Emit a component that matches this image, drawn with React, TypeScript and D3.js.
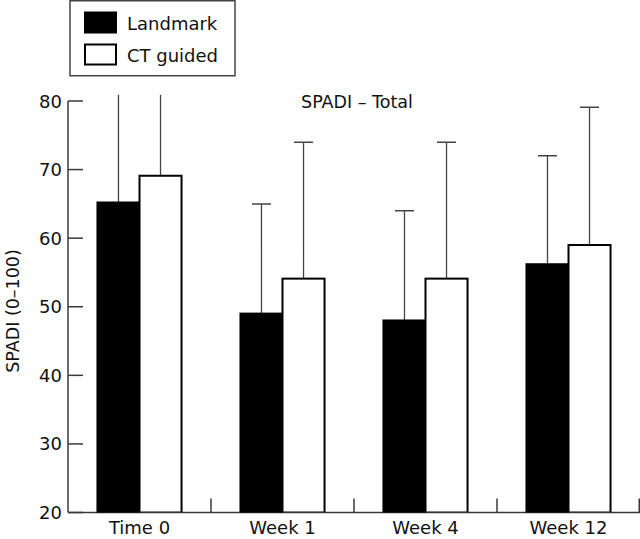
import { useEffect, useRef } from "react";
import * as d3 from "d3";

const categories = ["Time 0", "Week 1", "Week 4", "Week 12"];
const landmark = [65.2, 49, 48, 56.2];
const ctGuided = [69.1, 54.1, 54.1, 59];
// mean + SD (time 0 runs off the top of the axis)
const landmarkUpper = [86, 65, 64, 72];
const ctUpper = [88, 74, 74, 79.1];
const yTicks = [20, 30, 40, 50, 60, 70, 80];
const seriesNames = ["Landmark", "CT guided"];

export default function App() {
  const svgRef = useRef<SVGSVGElement>(null);

  useEffect(() => {
    if (!svgRef.current) return;
    const svg = d3.select(svgRef.current);
    svg.selectAll("*").remove();

    const width = 640;
    const height = 539;
    const left = 68;
    const right = 640;
    const top = 101;
    const bottom = 512.5;
    const font = "'DejaVu Sans', Verdana, sans-serif";
    const axisColor = "#3a3a3a";

    const x = d3.scaleBand<string>().domain(categories).range([left, right]);
    const y = d3.scaleLinear().domain([20, 80]).range([bottom, top]);
    const barW = x.bandwidth() * 0.294;

    svg.attr("width", width).attr("height", height);

    svg
      .append("defs")
      .append("clipPath")
      .attr("id", "plot-clip")
      .append("rect")
      .attr("x", left)
      .attr("y", y(80.9))
      .attr("width", right - left)
      .attr("height", bottom - y(80.9));

    // axes
    svg
      .append("line")
      .attr("x1", left)
      .attr("x2", left)
      .attr("y1", y(80))
      .attr("y2", y(20))
      .attr("stroke", axisColor)
      .attr("stroke-width", 1.5);
    svg
      .append("line")
      .attr("x1", left)
      .attr("x2", right)
      .attr("y1", y(20))
      .attr("y2", y(20))
      .attr("stroke", axisColor)
      .attr("stroke-width", 1.5);

    yTicks.forEach((t) => {
      svg
        .append("line")
        .attr("x1", left)
        .attr("x2", left + 15)
        .attr("y1", y(t))
        .attr("y2", y(t))
        .attr("stroke", axisColor)
        .attr("stroke-width", 1.5);
      svg
        .append("text")
        .attr("x", left - 6)
        .attr("y", y(t) + 6.5)
        .attr("text-anchor", "end")
        .attr("font-family", font)
        .attr("font-size", 18)
        .attr("fill", "#111")
        .text(t);
    });

    // category boundary ticks
    categories.forEach((c, i) => {
      if (i === 0) return;
      const bx = x(c)!;
      svg
        .append("line")
        .attr("x1", bx)
        .attr("x2", bx)
        .attr("y1", y(20))
        .attr("y2", y(20) - 14)
        .attr("stroke", axisColor)
        .attr("stroke-width", 1.5);
    });
    svg
      .append("line")
      .attr("x1", right - 0.75)
      .attr("x2", right - 0.75)
      .attr("y1", y(20))
      .attr("y2", y(20) - 14)
      .attr("stroke", axisColor)
      .attr("stroke-width", 1.5);

    categories.forEach((c) => {
      svg
        .append("text")
        .attr("x", x(c)! + x.bandwidth() / 2)
        .attr("y", 534)
        .attr("text-anchor", "middle")
        .attr("font-family", font)
        .attr("font-size", 18)
        .attr("fill", "#111")
        .text(c);
    });

    const plot = svg.append("g").attr("clip-path", "url(#plot-clip)");

    const series = [
      { vals: landmark, upper: landmarkUpper, fill: "#000", off: -barW },
      { vals: ctGuided, upper: ctUpper, fill: "#fff", off: 0 },
    ];

    series.forEach((s) => {
      categories.forEach((c, i) => {
        const cx = x(c)! + x.bandwidth() / 2 + s.off;
        const mid = cx + barW / 2;
        plot
          .append("line")
          .attr("x1", mid)
          .attr("x2", mid)
          .attr("y1", y(s.vals[i]))
          .attr("y2", y(s.upper[i]))
          .attr("stroke", "#444")
          .attr("stroke-width", 1.3);
        plot
          .append("line")
          .attr("x1", mid - 9.5)
          .attr("x2", mid + 9.5)
          .attr("y1", y(s.upper[i]))
          .attr("y2", y(s.upper[i]))
          .attr("stroke", "#444")
          .attr("stroke-width", 1.5);
      });
    });

    series.forEach((s) => {
      categories.forEach((c, i) => {
        const cx = x(c)! + x.bandwidth() / 2 + s.off;
        plot
          .append("rect")
          .attr("x", cx)
          .attr("y", y(s.vals[i]))
          .attr("width", barW)
          .attr("height", y(20) - y(s.vals[i]))
          .attr("fill", s.fill)
          .attr("stroke", "#000")
          .attr("stroke-width", 2);
      });
    });

    // title
    svg
      .append("text")
      .attr("x", 357)
      .attr("y", 108)
      .attr("text-anchor", "middle")
      .attr("font-family", font)
      .attr("font-size", 17.5)
      .attr("fill", "#111")
      .text("SPADI – Total");

    // y label
    svg
      .append("text")
      .attr("transform", `translate(19,311) rotate(-90)`)
      .attr("text-anchor", "middle")
      .attr("font-family", font)
      .attr("font-size", 17.5)
      .attr("fill", "#111")
      .text("SPADI (0–100)");

    // legend
    const lg = svg.append("g");
    lg.append("rect")
      .attr("x", 70)
      .attr("y", 0.75)
      .attr("width", 165)
      .attr("height", 75)
      .attr("fill", "#fff")
      .attr("stroke", "#444")
      .attr("stroke-width", 1.5);
    seriesNames.forEach((name, i) => {
      lg.append("rect")
        .attr("x", 85)
        .attr("y", 12.5 + i * 32)
        .attr("width", 31)
        .attr("height", 20)
        .attr("fill", i === 0 ? "#000" : "#fff")
        .attr("stroke", "#000")
        .attr("stroke-width", 2);
      lg.append("text")
        .attr("x", 127)
        .attr("y", 29.5 + i * 32)
        .attr("font-family", font)
        .attr("font-size", 18)
        .attr("fill", "#111")
        .text(name);
    });
  }, []);

  return (
    <svg
      ref={svgRef}
      style={{ position: "absolute", left: 0, top: 0, display: "block", background: "#fff" }}
    />
  );
}
